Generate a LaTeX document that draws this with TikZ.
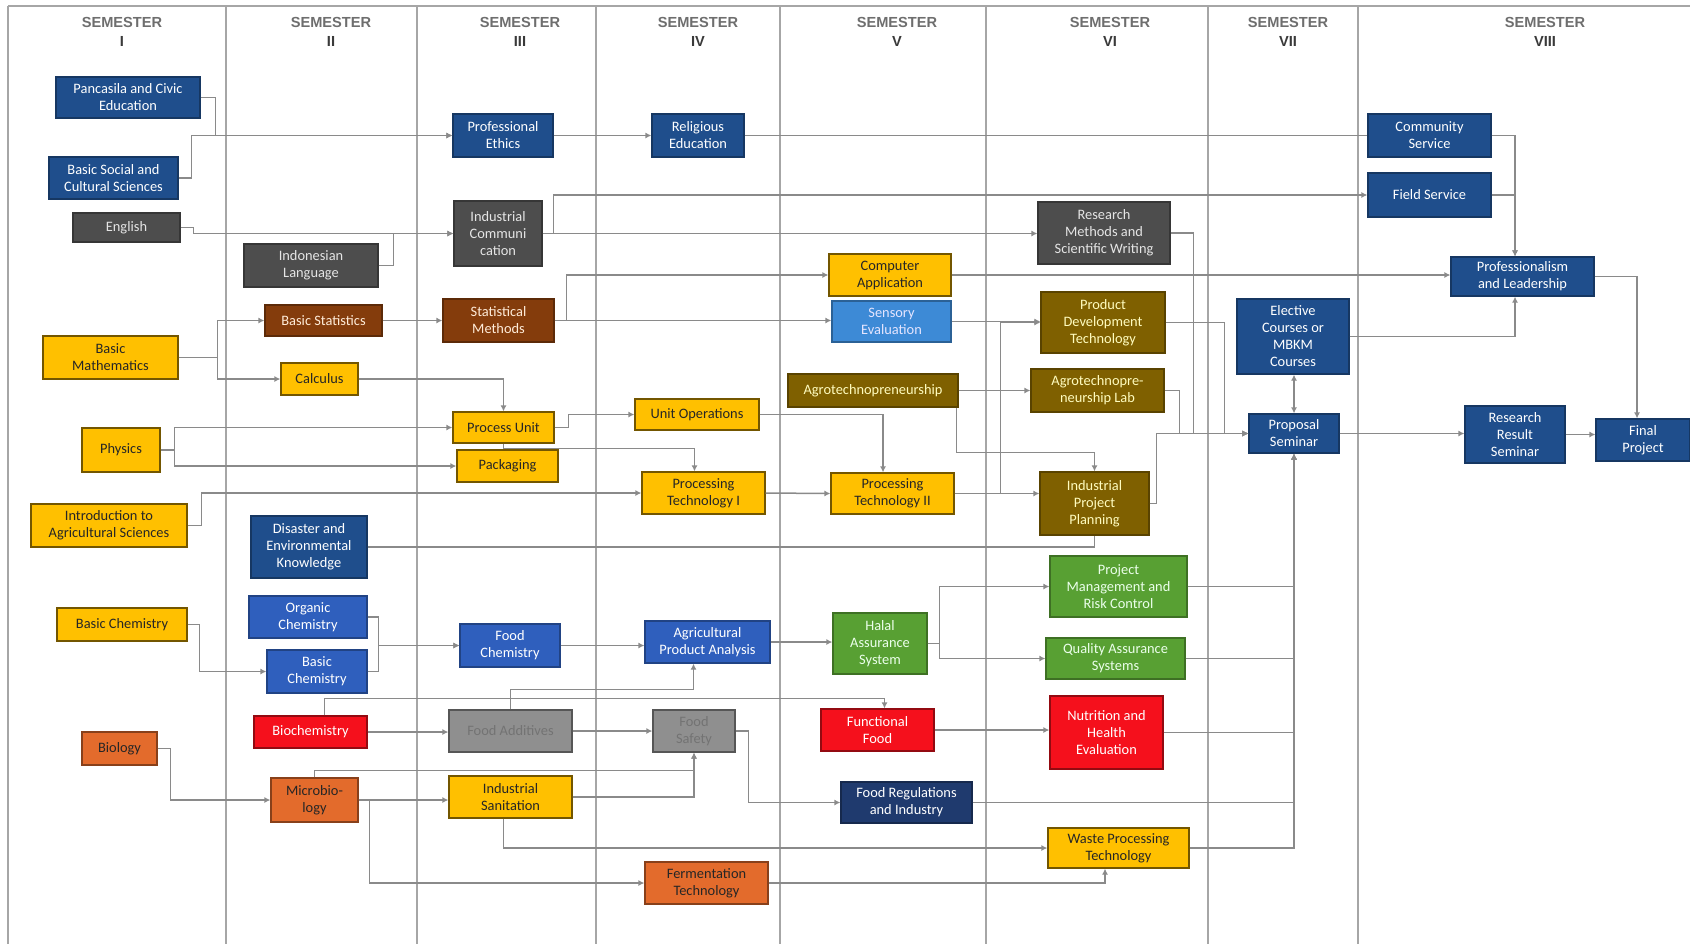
\documentclass[tikz,border=0pt]{standalone}
\usepackage{fontspec}
\setmainfont{Carlito}
\newfontfamily\headfont{Liberation Sans}
\usetikzlibrary{arrows.meta}

\definecolor{darkblue}{HTML}{1F4E8C}
\definecolor{medblue}{HTML}{2F5FBD}
\definecolor{lightblue}{HTML}{3D8AD6}
\definecolor{navy}{HTML}{1F3A6E}
\definecolor{darkgray}{HTML}{4D4D4D}
\definecolor{midgray}{HTML}{8F8F8F}
\definecolor{amber}{HTML}{FFC000}
\definecolor{rust}{HTML}{843C0C}
\definecolor{olive}{HTML}{7F6000}
\definecolor{leaf}{HTML}{58A033}
\definecolor{signal}{HTML}{F5101C}
\definecolor{tangerine}{HTML}{E36B2C}
\definecolor{linkgray}{HTML}{8A8A8A}
\definecolor{framegray}{HTML}{A6A6A6}
\definecolor{headgray}{HTML}{6E6E6E}
\definecolor{numgray}{HTML}{3A3A3A}

\tikzset{
  course/.style={draw, line width=0.6pt, align=center, inner sep=1pt,
    font=\fontsize{7.2}{8.5}\selectfont},
  darkbluebox/.style={course, fill=darkblue, draw=darkblue!70!black, text=white},
  medbluebox/.style={course, fill=medblue, draw=medblue!70!black, text=white},
  lightbluebox/.style={course, fill=lightblue, draw=lightblue!70!black, text=blue!10},
  navybox/.style={course, fill=navy, draw=navy!70!black, text=white},
  darkgraybox/.style={course, fill=darkgray, draw=darkgray!70!black, text=black!10},
  graybox/.style={course, fill=midgray, draw=midgray!60!black, text=black!55},
  amberbox/.style={course, fill=amber, draw=amber!45!black, text=black!85},
  rustbox/.style={course, fill=rust, draw=rust!70!black, text=orange!15},
  olivebox/.style={course, fill=olive, draw=olive!70!black, text=yellow!25},
  leafbox/.style={course, fill=leaf, draw=leaf!70!black, text=green!8},
  signalbox/.style={course, fill=signal, draw=signal!60!black, text=white},
  tangerinebox/.style={course, fill=tangerine, draw=tangerine!60!black, text=black!85},
  link/.style={draw=linkgray, line width=0.75pt, -{Latex[length=3pt,width=3pt]}},
  plainlink/.style={draw=linkgray, line width=0.75pt},
  semline/.style={draw=framegray, line width=0.7pt},
  semhead/.style={font=\headfont\bfseries\fontsize{7.3}{9.5}\selectfont, text=headgray, align=center},
}

\begin{document}
\begin{tikzpicture}[x=0.5pt, y=-0.5pt]
    \useasboundingbox (0,0) rectangle (1690,944);

    % Semester grid
    \draw[semline] (8,6) -- (1690,6);
    \draw[semline] (8,6) -- (8,944);
    \draw[semline] (226,6) -- (226,944);
    \draw[semline] (417,6) -- (417,944);
    \draw[semline] (596,6) -- (596,944);
    \draw[semline] (780,6) -- (780,944);
    \draw[semline] (986,6) -- (986,944);
    \draw[semline] (1208,6) -- (1208,944);
    \draw[semline] (1358,6) -- (1358,944);

    % Semester headings
    \node[semhead] (sem1) at (122,32) {SEMESTER\\\color{numgray}I};
    \node[semhead] (sem2) at (331,32) {SEMESTER\\\color{numgray}II};
    \node[semhead] (sem3) at (520,32) {SEMESTER\\\color{numgray}III};
    \node[semhead] (sem4) at (698,32) {SEMESTER\\\color{numgray}IV};
    \node[semhead] (sem5) at (897,32) {SEMESTER\\\color{numgray}V};
    \node[semhead] (sem6) at (1110,32) {SEMESTER\\\color{numgray}VI};
    \node[semhead] (sem7) at (1288,32) {SEMESTER\\\color{numgray}VII};
    \node[semhead] (sem8) at (1545,32) {SEMESTER\\\color{numgray}VIII};

    % Semester I
    \node[darkbluebox, minimum width=72pt, minimum height=20.5pt] (pancasila) at (128,97.5) {Pancasila and Civic\\Education};
    \node[darkbluebox, minimum width=64.5pt, minimum height=21pt] (socsci) at (113.5,178) {Basic Social and\\Cultural Sciences};
    \node[darkgraybox, minimum width=53.5pt, minimum height=14.5pt] (english) at (126.5,227.5) {English};
    \node[amberbox, minimum width=67.5pt, minimum height=21.5pt] (basicmath) at (110.5,357.5) {Basic\\Mathematics};
    \node[amberbox, minimum width=39pt, minimum height=22pt] (physics) at (121,450) {Physics};
    \node[amberbox, minimum width=78pt, minimum height=21.5pt] (introagri) at (109,525.5) {Introduction to\\Agricultural Sciences};
    \node[amberbox, minimum width=65pt, minimum height=16.5pt] (basicchemI) at (122,624.5) {Basic Chemistry};
    \node[tangerinebox, minimum width=37.5pt, minimum height=16.5pt] (biology) at (119.5,748.5) {Biology};

    % Semester II
    \node[darkgraybox, minimum width=67pt, minimum height=21.5pt] (indonesian) at (311,265.5) {Indonesian\\Language};
    \node[rustbox, minimum width=58.5pt, minimum height=15.5pt] (basicstat) at (323.5,320.5) {Basic Statistics};
    \node[amberbox, minimum width=38.5pt, minimum height=16pt] (calculus) at (319.5,379) {Calculus};
    \node[darkbluebox, minimum width=58pt, minimum height=31pt] (disaster) at (309,547) {Disaster and\\Environmental\\Knowledge};
    \node[medbluebox, minimum width=59pt, minimum height=21pt] (organic) at (308,617) {Organic\\Chemistry};
    \node[medbluebox, minimum width=50pt, minimum height=21.5pt] (basicchemII) at (317,671.5) {Basic\\Chemistry};
    \node[signalbox, minimum width=56.5pt, minimum height=16pt] (biochem) at (310.5,732) {Biochemistry};
    \node[tangerinebox, minimum width=43.5pt, minimum height=22pt] (microbio) at (314.5,800) {Microbio-\\logy};

    % Semester III
    \node[darkbluebox, minimum width=50pt, minimum height=21.5pt] (ethics) at (503,135.5) {Professional\\Ethics};
    \node[darkgraybox, minimum width=44pt, minimum height=32.5pt] (indcomm) at (498,233.5) {Industrial\\Communi\\cation};
    \node[rustbox, minimum width=55.5pt, minimum height=21.5pt] (statmeth) at (498.5,320.5) {Statistical\\Methods};
    \node[amberbox, minimum width=50.5pt, minimum height=15.5pt] (processunit) at (503.5,427.5) {Process Unit};
    \node[amberbox, minimum width=50.5pt, minimum height=16pt] (packaging) at (507.5,466) {Packaging};
    \node[medbluebox, minimum width=50pt, minimum height=21.5pt] (foodchem) at (510,645.5) {Food\\Chemistry};
    \node[graybox, minimum width=61.5pt, minimum height=21pt] (additives) at (510.5,731) {Food Additives};
    \node[amberbox, minimum width=61.5pt, minimum height=21pt] (sanitation) at (510.5,797) {Industrial\\Sanitation};

    % Semester IV
    \node[darkbluebox, minimum width=46pt, minimum height=21.5pt] (religious) at (698,135.5) {Religious\\Education};
    \node[amberbox, minimum width=62pt, minimum height=15.5pt] (unitops) at (697,414.5) {Unit Operations};
    \node[amberbox, minimum width=61.5pt, minimum height=21pt] (proctechI) at (703.5,493) {Processing\\Technology I};
    \node[medbluebox, minimum width=62.5pt, minimum height=21pt] (analysis) at (707.5,642) {Agricultural\\Product Analysis};
    \node[graybox, minimum width=41pt, minimum height=21pt] (safety) at (694,731) {Food\\Safety};
    \node[tangerinebox, minimum width=61.5pt, minimum height=21pt] (fermentation) at (706.5,883) {Fermentation\\Technology};

    % Semester V
    \node[amberbox, minimum width=61pt, minimum height=21pt] (compapp) at (890,275) {Computer\\Application};
    \node[lightbluebox, minimum width=59.5pt, minimum height=20.5pt] (sensory) at (891.5,321.5) {Sensory\\Evaluation};
    \node[olivebox, minimum width=85pt, minimum height=16.5pt] (agro) at (873,390.5) {Agrotechnopreneurship};
    \node[amberbox, minimum width=61.5pt, minimum height=20.5pt] (proctechII) at (892.5,493.5) {Processing\\Technology II};
    \node[leafbox, minimum width=47pt, minimum height=30.5pt] (halal) at (880,643.5) {Halal\\Assurance\\System};
    \node[signalbox, minimum width=56.5pt, minimum height=21pt] (functional) at (877.5,730) {Functional\\Food};
    \node[navybox, minimum width=65.5pt, minimum height=20.5pt] (regulations) at (906.5,802.5) {Food Regulations\\and Industry};

    % Semester VI
    \node[darkgraybox, minimum width=66pt, minimum height=31pt] (research) at (1104,233) {Research\\Methods and\\Scientific Writing};
    \node[olivebox, minimum width=62pt, minimum height=30.5pt] (proddev) at (1103,322.5) {Product\\Development\\Technology};
    \node[olivebox, minimum width=66.5pt, minimum height=21.5pt] (agrolab) at (1097.5,390.5) {Agrotechnopre-\\neurship Lab};
    \node[olivebox, minimum width=54.5pt, minimum height=31.5pt] (planning) at (1094.5,503.5) {Industrial\\Project\\Planning};
    \node[leafbox, minimum width=68.5pt, minimum height=30.5pt] (projman) at (1118.5,586.5) {Project\\Management and\\Risk Control};
    \node[leafbox, minimum width=69.5pt, minimum height=20.5pt] (quality) at (1115.5,658.5) {Quality Assurance\\Systems};
    \node[signalbox, minimum width=56.5pt, minimum height=36.5pt] (nutrition) at (1106.5,732.5) {Nutrition and\\Health\\Evaluation};
    \node[amberbox, minimum width=70.5pt, minimum height=20pt] (waste) at (1118.5,848) {Waste Processing\\Technology};

    % Semester VII
    \node[darkbluebox, minimum width=56pt, minimum height=37.5pt] (elective) at (1293,336.5) {Elective\\Courses or\\MBKM\\Courses};
    \node[darkbluebox, minimum width=45pt, minimum height=19.5pt] (proposal) at (1294,433.5) {Proposal\\Seminar};

    % Semester VIII
    \node[darkbluebox, minimum width=61.5pt, minimum height=21.5pt] (community) at (1429.5,135.5) {Community\\Service};
    \node[darkbluebox, minimum width=61.5pt, minimum height=22pt] (field) at (1429.5,195) {Field Service};
    \node[darkbluebox, minimum width=71.5pt, minimum height=19.5pt] (proflead) at (1522.5,276.5) {Professionalism\\and Leadership};
    \node[darkbluebox, minimum width=50pt, minimum height=28.5pt] (result) at (1515,434.5) {Research\\Result\\Seminar};
    \node[darkbluebox, minimum width=47pt, minimum height=21pt] (final) at (1643,440) {Final\\Project};

    % Prerequisites, upper part
    \draw[link] (pancasila.east) -- ++(15,0) |- (ethics.west);
    \draw[link] (socsci.east) -- ++(13,0) |- (ethics.west);
    \draw[link] (ethics.east) -- (religious.west);
    \draw[plainlink] (religious.east) -- (community.west);
    \draw[link] (english.east) -- ++(13,0) |- (indcomm.west);
    \draw[link] (indonesian.east) -- ++(15,0) |- (indcomm.west);
    \draw[link] (indcomm.east) -- (indcomm.east -| research.west);
    \draw[link] (indcomm.east) -- ++(11,0) |- (field.west);
    \draw[link] (basicmath.east) -- ++(39,0) |- (basicstat.west);
    \draw[link] (basicmath.east) -- ++(39,0) |- (calculus.west);
    \draw[link] (basicstat.east) -- (statmeth.west);
    \draw[link] (statmeth.east) -- ++(12,0) |- (compapp.west);
    \draw[link] (statmeth.east) -- (statmeth.east -| sensory.west);
    \draw[link] (compapp.east) -- (compapp.east -| proflead.west);
    \draw[link] (community.east) -| ([xshift=-3.75pt]proflead.north);
    \draw[link] (field.east) -| ([xshift=-3.75pt]proflead.north);
    \draw[link] (elective.east) -| ([xshift=-3.75pt]proflead.south);
    \draw[link] (proflead.east) -| ([xshift=-3pt]final.north);

    % Prerequisites, middle part
    \draw[link] (calculus.east) -| (processunit.north);
    \draw[link] (physics.east) -- ++(14,0) |- (processunit.west);
    \draw[link] (physics.east) -- ++(14,0) |- (packaging.west);
    \draw[link] (processunit.east) -- ++(14,0) |- (unitops.west);
    \draw[link] (processunit.south) -- ++(0,5) -| ([xshift=-4.5pt]proctechI.north);
    \draw[link] (introagri.east) -- ++(14,0) |- (proctechI.west);
    \draw[link] (unitops.east) -| ([xshift=-4.75pt]proctechII.north);
    \draw[link] (proctechI.east) -- (proctechII.west);
    \draw[link] (proctechII.east) -- (proctechII.east -| planning.west);
    \draw[link] (proctechII.east) -- ++(46,0) |- (proddev.west);
    \draw[link] (sensory.east) -- (sensory.east -| proddev.west);
    \draw[link] (agro.east) -- (agrolab.west);
    \draw[link] ([xshift=-1pt]agro.south east) -- ++(0,45) -| (planning.north);
    \draw[plainlink] (disaster.east) -| (planning.south);

    % Into the proposal seminar
    \draw[link] (research.east) -- ++(23,0) |- (proposal.west);
    \draw[link] (proddev.east) -- ++(59,0) |- (proposal.west);
    \draw[link] (agrolab.east) -- ++(15,0) |- (proposal.west);
    \draw[link] (planning.east) -- ++(7,0) |- (proposal.west);
    \draw[link] (projman.east) -| (proposal.south);
    \draw[link] (quality.east) -| (proposal.south);
    \draw[link] (nutrition.east) -| (proposal.south);
    \draw[link] (regulations.east) -| (proposal.south);
    \draw[link] (waste.east) -| (proposal.south);
    \draw[link, {Latex[length=3pt,width=3pt]}-{Latex[length=3pt,width=3pt]}] (proposal.north) -- (proposal.north |- elective.south);
    \draw[link] (proposal.east) -- (proposal.east -| result.west);
    \draw[link] (result.east) -- (result.east -| final.west);

    % Prerequisites, lower part
    \draw[link] (basicchemI.east) -- ++(12,0) |- (basicchemII.west);
    \draw[link] (organic.east) -- ++(11,0) |- (foodchem.west);
    \draw[link] (basicchemII.east) -- ++(11,0) |- (foodchem.west);
    \draw[link] (foodchem.east) -- (foodchem.east -| analysis.west);
    \draw[link] (analysis.east) -- (analysis.east -| halal.west);
    \draw[link] (halal.east) -- ++(12,0) |- (projman.west);
    \draw[link] (halal.east) -- ++(12,0) |- (quality.west);
    \draw[link] (biochem.east) -- (biochem.east -| additives.west);
    \draw[link] ([xshift=7pt]biochem.north) -- ++(0,-17) -| ([xshift=3.5pt]functional.north);
    \draw[link] (additives.north) -- ++(0,-20) -| ([xshift=-7pt]analysis.south);
    \draw[link] (additives.east) -- (safety.west);
    \draw[link] (safety.east) -- ++(13,0) |- (regulations.west);
    \draw[link] (microbio.north) -- ++(0,-7) -| (safety.south);
    \draw[link] (sanitation.east) -| (safety.south);
    \draw[link] (biology.east) -- ++(13,0) |- (microbio.west);
    \draw[link] (microbio.east) -- (microbio.east -| sanitation.west);
    \draw[link] (microbio.east) -- ++(11,0) |- (fermentation.west);
    \draw[link] ([xshift=-3.5pt]sanitation.south) |- (waste.west);
    \draw[link] (fermentation.east) -| ([xshift=-6.75pt]waste.south);
    \draw[link] (functional.east) -- (functional.east -| nutrition.west);
\end{tikzpicture}
\end{document}
